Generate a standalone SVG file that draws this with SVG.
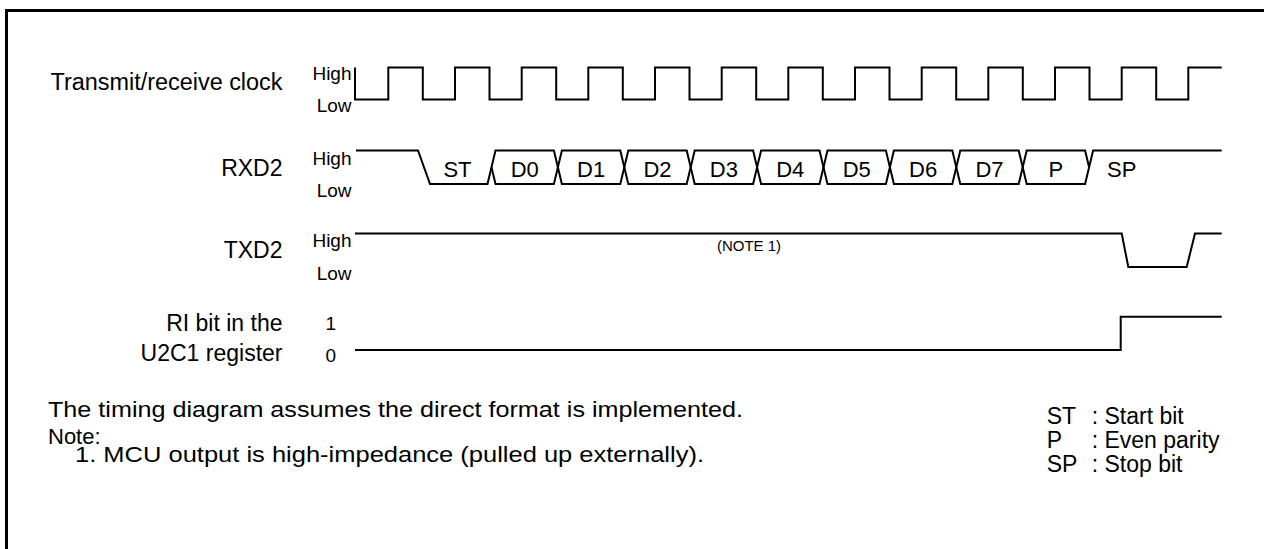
<svg xmlns="http://www.w3.org/2000/svg" width="1264" height="549" viewBox="0 0 1264 549">
<style>
text{font-family:"Liberation Sans",Arial,sans-serif;fill:#000}
.lbl{font-size:23px;text-anchor:end}
.hl{font-size:19px;text-anchor:end}
.cell{font-size:22px;text-anchor:middle}
.txt{font-size:22px}
.leg{font-size:23px}
.sig{fill:none;stroke:#000;stroke-width:2;stroke-linejoin:miter}
</style>
<rect width="1264" height="549" fill="#fff"/>
<path d="M6.5,549 V10.5 H1264" fill="none" stroke="#000" stroke-width="3"/>
<g id="clock">
<text class="lbl" x="282.5" y="90" textLength="232" lengthAdjust="spacingAndGlyphs">Transmit/receive clock</text>
<text class="hl" x="351.5" y="80">High</text>
<text class="hl" x="351.5" y="111.5">Low</text>
</g>
<g id="rxd2">
<text class="lbl" x="282.5" y="176">RXD2</text>
<text class="hl" x="351.5" y="164.5">High</text>
<text class="hl" x="351.5" y="196.5">Low</text>
<text class="cell" x="457.5" y="177">ST</text>
<text class="cell" x="524.7" y="177">D0</text>
<text class="cell" x="591.1" y="177">D1</text>
<text class="cell" x="657.5" y="177">D2</text>
<text class="cell" x="723.9" y="177">D3</text>
<text class="cell" x="790.3" y="177">D4</text>
<text class="cell" x="856.7" y="177">D5</text>
<text class="cell" x="923.1" y="177">D6</text>
<text class="cell" x="989.5" y="177">D7</text>
<text class="cell" x="1055.9" y="177">P</text>
<text class="cell" x="1107" y="177" style="text-anchor:start">SP</text>
</g>
<g id="txd2">
<text class="lbl" x="282.5" y="258">TXD2</text>
<text class="hl" x="351.5" y="246.5">High</text>
<text class="hl" x="351.5" y="280">Low</text>
<text x="749" y="251" style="font-size:15px;text-anchor:middle">(NOTE 1)</text>
</g>
<g id="ri">
<text class="lbl" x="282.5" y="331">RI bit in the</text>
<text class="lbl" x="282.5" y="361">U2C1 register</text>
<text class="hl" x="336" y="330">1</text>
<text class="hl" x="336" y="362">0</text>
</g>
<g id="connectors">
<path class="sig" d="M355,67.5V99.5H388.3V67.5H422.8V99.5H455V67.5H489.5V99.5H521.7V67.5H556.2V99.5H588.3V67.5H622.8V99.5H655V67.5H689.5V99.5H721.7V67.5H756.2V99.5H788.3V67.5H822.8V99.5H855V67.5H889.5V99.5H921.7V67.5H956.2V99.5H988.3V67.5H1022.8V99.5H1055V67.5H1089.5V99.5H1121.7V67.5H1156.2V99.5H1188.3V67.5H1221.7"/>
<path class="sig" d="M356,150.5H418L430,184H487.5L495.5,150.5H553.9L561.9,184H620.3L628.3,150.5H686.7L694.7,184H753.1L761.1,150.5H819.5L827.5,184H885.9L893.9,150.5H952.3L960.3,184H1018.7L1026.7,150.5H1085.1L1089.1,167.25"/>
<path class="sig" d="M491.5,167.25L495.5,184H553.9L561.9,150.5H620.3L628.3,184H686.7L694.7,150.5H753.1L761.1,184H819.5L827.5,150.5H885.9L893.9,184H952.3L960.3,150.5H1018.7L1026.7,184H1085.1L1093.1,150.5H1221.7"/>
<path class="sig" d="M355,233.5H1121.7L1128.3,267H1186.7L1195,233.5H1221.7"/>
<path class="sig" d="M355,350H1120.7V316.7H1221.7"/>
</g>
<g id="notes">
<text class="txt" x="48" y="417" textLength="695" lengthAdjust="spacingAndGlyphs">The timing diagram assumes the direct format is implemented.</text>
<text class="txt" x="48" y="444">Note:</text>
<text class="txt" x="75" y="462" textLength="629" lengthAdjust="spacingAndGlyphs">1. MCU output is high-impedance (pulled up externally).</text>
</g>
<g id="legend">
<text class="leg" x="1046.7" y="424">ST</text>
<text class="leg" x="1091.7" y="424">: Start bit</text>
<text class="leg" x="1046.7" y="448">P</text>
<text class="leg" x="1091.7" y="448">: Even parity</text>
<text class="leg" x="1046.7" y="472">SP</text>
<text class="leg" x="1091.7" y="472">: Stop bit</text>
</g>
</svg>
